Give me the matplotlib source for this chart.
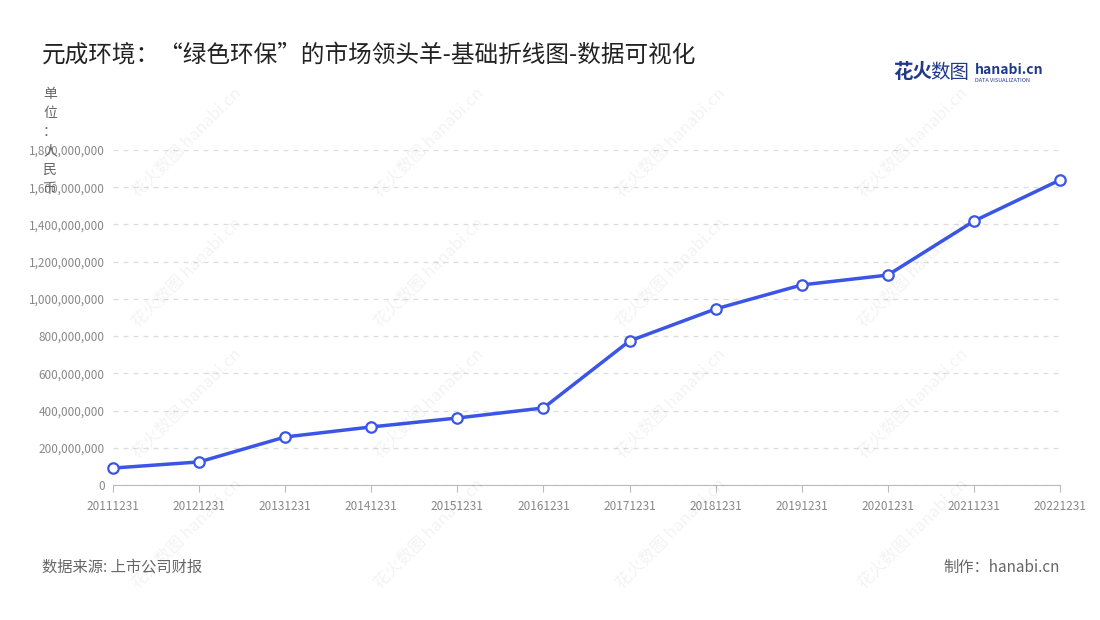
import matplotlib
matplotlib.use("Agg")
import matplotlib.pyplot as plt
from matplotlib.ticker import FuncFormatter

plt.rcParams['font.family'] = ['Noto Sans CJK SC', 'DejaVu Sans']

years = ['20111231','20121231','20131231','20141231','20151231','20161231',
         '20171231','20181231','20191231','20201231','20211231','20221231']
values = [91e6, 124e6, 258e6, 312e6, 360e6, 414e6,
          774e6, 946e6, 1075e6, 1128e6, 1418e6, 1639e6]
title = '元成环境：“绿色环保”的市场领头羊-基础折线图-数据可视化'

fig = plt.figure(figsize=(11, 6.2), dpi=100)
ax = fig.add_axes([113/1100, 1-485/620, (1060-113)/1100, (485-150)/620])
x = list(range(len(years)))
ax.plot(x, values, color='#3b55e6', lw=2.5, marker='o', ms=7.5,
        mfc='white', mec='#3b55e6', mew=1.6, zorder=3, clip_on=False)
ax.set_xlim(0, len(years)-1)
ax.set_ylim(0, 1.8e9)
ax.set_yticks([i*2e8 for i in range(10)])
ax.yaxis.set_major_formatter(FuncFormatter(lambda v, p: f'{int(v):,}'))
ax.set_xticks(x)
ax.set_xticklabels(years)
ax.tick_params(axis='both', labelsize=8.5, colors='#888888', length=0, pad=6)
ax.tick_params(axis='x', length=5, color='#bbbbbb')
ax.grid(axis='y', ls=(0, (4, 4)), color='#dddddd', lw=0.9)
for s in ['top', 'right', 'left']:
    ax.spines[s].set_visible(False)
ax.spines['bottom'].set_color('#bbbbbb')

# watermarks
for wx in [0.13, 0.35, 0.57, 0.79]:
    for wy in [0.77, 0.56, 0.35, 0.14]:
        fig.text(wx + 0.04, wy, '花火数图 hanabi.cn', fontsize=12, color='#000000',
                 alpha=0.05, rotation=45, ha='center', va='center')

fig.text(42/1100, 1-55/620, title, fontsize=17, color='#222222', va='center')
fig.text(50/1100, 1-87/620, '单\n位\n：\n人\n民\n币', fontsize=10, color='#666666',
         va='top', ha='center', linespacing=1.45)
fig.text(42/1100, 1-567/620, '数据来源: 上市公司财报', fontsize=11, color='#666666', va='center')
fig.text(1060/1100, 1-567/620, '制作：hanabi.cn', fontsize=11, color='#666666', va='center', ha='right')
fig.text(893/1100, 1-73/620, '花火', fontsize=14, color='#1f3a8a', weight='bold', va='center')
fig.text(930/1100, 1-73/620, '数图', fontsize=14, color='#1f3a8a', va='center')
fig.text(975/1100, 1-70/620, 'hanabi.cn', fontsize=10, color='#1f3a8a', weight='bold', va='center')
fig.text(975/1100, 1-80/620, 'DATA VISUALIZATION', fontsize=4, color='#1f3a8a', va='center')

fig.savefig('out.png', dpi=100)
